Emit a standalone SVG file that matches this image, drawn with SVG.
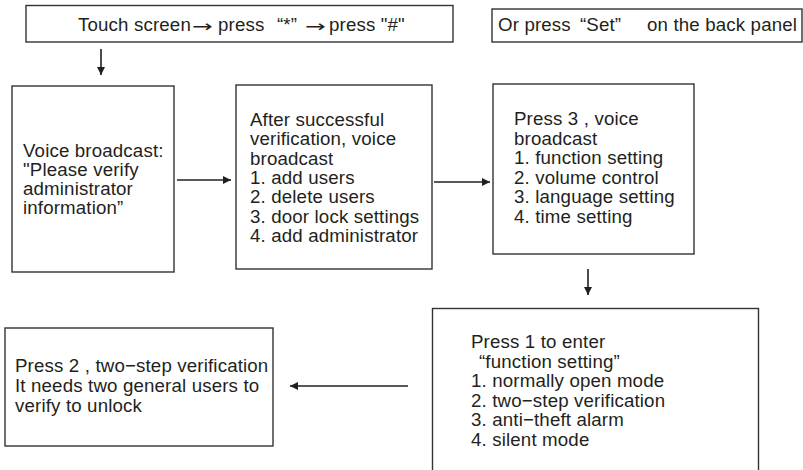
<svg xmlns="http://www.w3.org/2000/svg" width="803" height="470" viewBox="0 0 803 470">
<defs>
<style>
.box{fill:#fff;stroke:#333;stroke-width:1.4}
.t{font-family:"Liberation Sans",Arial,sans-serif;font-size:18.7px;fill:#231f20;letter-spacing:0.15px}
.ar{font-family:"DejaVu Sans",sans-serif;font-size:16px}
.c{stroke:#231f20;stroke-width:1.6;fill:none}
</style>
<marker id="ah" viewBox="0 0 10 10" refX="10" refY="5" markerWidth="9" markerHeight="8" markerUnits="userSpaceOnUse" orient="auto">
<path d="M0,0 L10,5 L0,10 Z" fill="#231f20"/>
</marker>
</defs>
<rect width="803" height="470" fill="#fff"/>
<g id="connectors">
<line class="c" x1="101" y1="49" x2="101" y2="75" marker-end="url(#ah)"/>
<line class="c" x1="177" y1="180" x2="231" y2="180" marker-end="url(#ah)"/>
<line class="c" x1="434" y1="182" x2="490" y2="182" marker-end="url(#ah)"/>
<line class="c" x1="588" y1="269" x2="588" y2="295" marker-end="url(#ah)"/>
<line class="c" x1="408" y1="386" x2="290" y2="386" marker-end="url(#ah)"/>
</g>
<g id="node-touch">
<rect class="box" x="26" y="5.5" width="427" height="36.5"/>
<text class="t" y="31"><tspan x="78">Touch screen</tspan><tspan class="ar" x="192" y="32" textLength="21" lengthAdjust="spacingAndGlyphs">→</tspan><tspan x="218" y="31">press</tspan><tspan x="277">“*”</tspan><tspan class="ar" x="305" y="32" textLength="21" lengthAdjust="spacingAndGlyphs">→</tspan><tspan x="329" y="31">press "#"</tspan></text>
</g>
<g id="node-set">
<rect class="box" x="492" y="9" width="310" height="33"/>
<text class="t" y="31"><tspan x="498">Or press</tspan><tspan x="580">“Set”</tspan><tspan x="647">on the back panel</tspan></text>
</g>
<g id="node-voice">
<rect class="box" x="12" y="86" width="162" height="186"/>
<text class="t"><tspan x="23" y="156.5">Voice broadcast:</tspan><tspan x="23" y="175.7">"Please verify</tspan><tspan x="23" y="194.9">administrator</tspan><tspan x="23" y="214.1">information”</tspan></text>
</g>
<g id="node-admin">
<rect class="box" x="236" y="85" width="196" height="184"/>
<text class="t"><tspan x="250" y="126">After successful</tspan><tspan x="250" y="145.3">verification, voice</tspan><tspan x="250" y="164.6">broadcast</tspan><tspan x="250" y="183.9">1. add users</tspan><tspan x="250" y="203.2">2. delete users</tspan><tspan x="250" y="222.5">3. door lock settings</tspan><tspan x="250" y="241.8">4. add administrator</tspan></text>
</g>
<g id="node-press3">
<rect class="box" x="493" y="84" width="201" height="170"/>
<text class="t"><tspan x="514" y="125">Press 3 , voice</tspan><tspan x="514" y="144.6">broadcast</tspan><tspan x="514" y="164.2">1. function setting</tspan><tspan x="514" y="183.8">2. volume control</tspan><tspan x="514" y="203.4">3. language setting</tspan><tspan x="514" y="223">4. time setting</tspan></text>
</g>
<g id="node-press1">
<rect class="box" x="432.5" y="308.5" width="326" height="170"/>
<text class="t"><tspan x="471" y="348">Press 1 to enter</tspan><tspan x="479" y="367.5">“function setting”</tspan><tspan x="471" y="387">1. normally open mode</tspan><tspan x="471" y="406.5">2. two−step verification</tspan><tspan x="471" y="426">3. anti−theft alarm</tspan><tspan x="471" y="445.5">4. silent mode</tspan></text>
</g>
<g id="node-press2">
<rect class="box" x="5" y="328" width="268" height="118"/>
<text class="t"><tspan x="15" y="372.3">Press 2 , two−step verification</tspan><tspan x="15" y="392.2">It needs two general users to</tspan><tspan x="15" y="412">verify to unlock</tspan></text>
</g>
</svg>
